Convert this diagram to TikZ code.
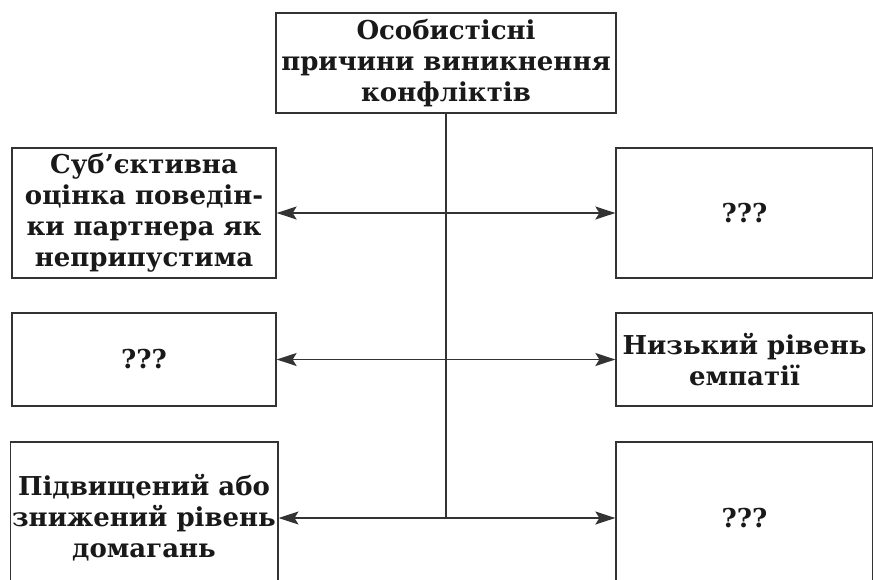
\documentclass[tikz,border=0pt]{standalone}
\usepackage{fontspec}
\setmainfont{DejaVu Serif}
\usetikzlibrary{arrows.meta}
\tikzset{
  causebox/.style={draw=black!80, line width=1.3pt, align=center, inner sep=2pt,
    font=\fontsize{26}{31}\selectfont\bfseries, text=black!90},
  sidebox/.style={causebox, minimum width=264pt},
  rightbox/.style={causebox, minimum width=257pt},
  link/.style={draw=black!80, line width=1.3pt, {Stealth[length=20pt,width=13pt,inset=4pt]}-{Stealth[length=20pt,width=13pt,inset=4pt]}}
}
\begin{document}
\begin{tikzpicture}[x=1pt, y=-1pt]
    \useasboundingbox (0,0) rectangle (873,579);
    \clip (0,0) rectangle (873,579);
    % Головний блок
    \node[causebox, minimum width=340pt, minimum height=100pt] (top) at (446,63)
        {Особистісні\\причини виникнення\\конфліктів};
    % Ліва колонка
    \node[sidebox, minimum height=130pt] (l1) at (144,213)
        {Суб’єктивна\\оцінка поведін-\\ки партнера як\\неприпустима};
    \node[sidebox, minimum height=93pt] (l2) at (144,359.5) {???};
    \node[sidebox, minimum height=152pt] (l3) at (144,518)
        {Підвищений або\\знижений рівень\\домагань};
    % Права колонка
    \node[rightbox, minimum height=130pt] (r1) at (744.5,213) {???};
    \node[rightbox, minimum height=93pt] (r2) at (744.5,359.5)
        {Низький рівень\\емпатії};
    \node[rightbox, minimum height=152pt] (r3) at (744.5,518) {???};
    % Зв'язки
    \draw[draw=black!80, line width=1.3pt] (top.south) -- (top.south |- l3.east);
    \draw[link] (l1.east) -- (r1.west);
    \draw[link] (l2.east) -- (r2.west);
    \draw[link] (l3.east) -- (r3.west);
\end{tikzpicture}
\end{document}
